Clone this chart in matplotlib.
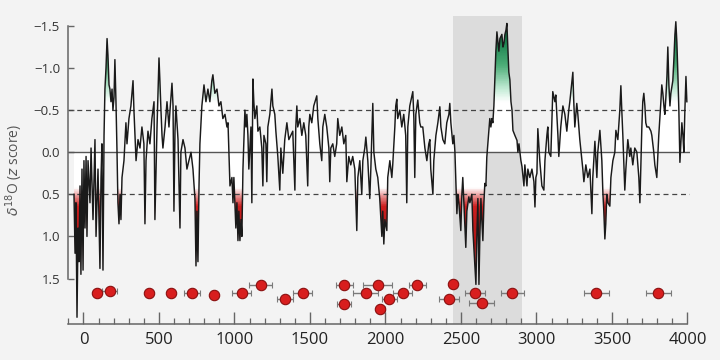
import matplotlib.pyplot as plt
from matplotlib.colors import LinearSegmentedColormap
import numpy as np

plt.rcParams['font.family'] = ['Open Sans', 'DejaVu Sans']

# record: (year, z score) turning points
years = [-63, -56, -50, -43, -36, -30, -23, -17, -10, -3, 3, 10, 17, 23, 30, 43, 50, 63, 76, 83,
         96, 109, 116, 122, 129, 136, 142, 149, 156, 162, 169, 175, 182, 189, 195, 202, 208, 215, 222, 228,
         235, 242, 248, 255, 268, 281, 288, 301, 314, 328, 334, 348, 361, 374, 387, 400, 407, 414, 427, 440,
         453, 467, 473, 487, 500, 506, 513, 520, 526, 540, 553, 566, 573, 586, 593, 599, 606, 612, 626, 639,
         645, 659, 672, 685, 698, 712, 725, 738, 745, 751, 758, 765, 771, 784, 798, 811, 824, 837, 850, 857,
         870, 884, 897, 910, 923, 937, 950, 957, 963, 970, 983, 990, 996, 1009, 1016, 1023, 1029, 1036, 1043, 1049,
         1056, 1069, 1076, 1082, 1089, 1095, 1109, 1115, 1122, 1128, 1135, 1148, 1155, 1168, 1181, 1188, 1195, 1208, 1214, 1221,
         1234, 1248, 1254, 1267, 1274, 1287, 1300, 1307, 1320, 1333, 1347, 1360, 1373, 1386, 1400, 1406, 1413, 1419, 1433, 1446,
         1459, 1472, 1485, 1492, 1499, 1512, 1525, 1545, 1552, 1565, 1578, 1585, 1598, 1611, 1625, 1631, 1638, 1651, 1664, 1677,
         1684, 1697, 1711, 1724, 1737, 1744, 1757, 1770, 1783, 1797, 1810, 1817, 1830, 1843, 1850, 1863, 1870, 1883, 1896, 1903,
         1916, 1923, 1936, 1949, 1962, 1976, 1982, 1989, 1996, 2009, 2015, 2029, 2042, 2048, 2062, 2068, 2075, 2081, 2095, 2108,
         2121, 2134, 2141, 2148, 2161, 2181, 2188, 2194, 2201, 2214, 2227, 2234, 2247, 2261, 2274, 2287, 2294, 2300, 2314, 2320,
         2334, 2347, 2360, 2367, 2380, 2393, 2406, 2420, 2426, 2433, 2446, 2453, 2460, 2473, 2479, 2486, 2499, 2506, 2512, 2519,
         2532, 2539, 2552, 2559, 2572, 2579, 2592, 2599, 2605, 2612, 2619, 2625, 2632, 2638, 2645, 2652, 2658, 2665, 2671, 2678,
         2691, 2698, 2705, 2711, 2718, 2725, 2731, 2738, 2745, 2751, 2758, 2771, 2778, 2785, 2791, 2798, 2804, 2811, 2817, 2824,
         2831, 2838, 2844, 2857, 2871, 2877, 2884, 2897, 2904, 2917, 2923, 2937, 2943, 2956, 2970, 2983, 2990, 2996, 3003, 3009,
         3022, 3036, 3049, 3056, 3069, 3075, 3082, 3095, 3108, 3122, 3128, 3142, 3148, 3161, 3175, 3188, 3201, 3214, 3221, 3241,
         3247, 3254, 3267, 3274, 3287, 3307, 3314, 3327, 3340, 3354, 3367, 3373, 3387, 3400, 3406, 3420, 3433, 3440, 3446, 3453,
         3459, 3466, 3473, 3486, 3493, 3506, 3519, 3526, 3539, 3552, 3559, 3565, 3572, 3585, 3592, 3605, 3618, 3625, 3638, 3651,
         3665, 3678, 3685, 3691, 3698, 3704, 3711, 3718, 3724, 3731, 3744, 3758, 3764, 3777, 3784, 3797, 3810, 3824, 3830, 3837,
         3844, 3850, 3857, 3864, 3870, 3877, 3884, 3890, 3903, 3910, 3917, 3923, 3930, 3937, 3943, 3950, 3956, 3963, 3970, 3976,
         3983, 3990, 3996]
d18o = [0.5, 1.2, 0.6, 1.96, 0.9, 1.3, 0.4, 1.45, 0.2, 1.4, 0.1, 0.9, 0.05, 1.0, 0.1, 0.6, -0.05, 0.8, -0.15, 1.0,
        0.2, 1.38, 0.3, -0.1, 1.4, -0.2, -0.75, -1.0, -1.35, -1.15, -0.8, -0.75, -0.6, -0.75, -0.5, -0.65, -1.1, -0.6, 0.0, 0.6,
        0.85, 0.5, 0.8, 0.3, 0.1, -0.35, -0.1, -0.4, -0.55, -0.85, -0.5, 0.1, -0.15, -0.05, -0.3, -0.1, 0.85, 0.1, -0.25, -0.1,
        -0.4, -0.6, 0.8, -0.3, -1.12, -0.85, -0.5, -0.2, -0.05, -0.3, -0.6, -0.3, -0.5, -0.82, -0.55, 0.7, -0.25, -0.55, -0.15, 0.9,
        0.0, -0.15, -0.05, 0.2, 0.1, 0.0, 0.2, 0.55, 1.35, 0.7, 1.3, 0.4, -0.1, -0.55, -0.8, -0.6, -0.75, -0.6, -0.85, -0.92,
        -0.7, -0.75, -0.55, -0.6, -0.4, -0.45, -0.3, -0.35, 0.0, 0.4, 0.3, 0.6, 0.3, 0.9, 0.6, 1.05, 0.7, 1.05, 0.8, 1.0,
        0.2, -0.5, -0.3, -0.45, -0.2, 0.2, -0.3, 0.6, -0.87, -0.6, -0.4, -0.55, -0.25, -0.3, -0.05, 0.4, -0.2, -0.1, 0.35, -0.3,
        -0.45, -0.75, -0.55, -0.45, -0.25, 0.05, 0.45, -0.05, 0.25, -0.15, -0.35, -0.15, -0.2, -0.25, 0.45, -0.3, -0.55, -0.3, -0.4, -0.2,
        -0.35, -0.2, 0.4, -0.3, -0.45, -0.35, -0.55, -0.67, -0.4, -0.1, 0.1, -0.3, -0.45, -0.3, -0.05, 0.35, -0.05, -0.1, 0.05, -0.1,
        -0.4, -0.2, -0.3, -0.1, -0.2, 0.35, 0.05, 0.15, 0.05, 0.2, 0.93, 0.3, 0.1, 0.5, 0.1, -0.05, -0.18, 0.1, 0.55, 0.2,
        -0.58, 0.0, 0.2, 0.3, 0.55, 1.0, 0.7, 1.09, 0.8, 0.93, 0.3, 0.1, 0.3, 0.15, -0.3, -0.55, -0.63, -0.4, -0.5, -0.3,
        -0.45, -0.2, 0.6, -0.3, -0.55, -0.72, -0.4, 0.3, -0.45, -0.62, -0.35, -0.3, -0.3, -0.05, 0.1, -0.1, -0.15, 0.2, 0.5, 0.1,
        -0.2, -0.35, -0.54, -0.3, -0.15, -0.1, -0.35, -0.45, -0.58, -0.35, -0.1, -0.2, 0.0, 0.73, 0.5, 0.6, 0.93, 0.5, 0.3, 0.6,
        1.13, 0.7, 0.53, 0.6, 0.5, 0.93, 1.35, 1.57, 1.0, 0.55, 1.57, 1.0, 0.55, 0.8, 1.05, 0.6, 0.37, 0.4, 0.06, -0.1,
        -0.4, -0.3, -0.4, -0.35, -0.55, -0.9, -1.2, -1.43, -1.3, -1.2, -1.35, -1.4, -1.25, -1.3, -1.4, -1.45, -1.53, -1.2, -0.95, -0.86,
        -0.6, -0.5, -0.26, -0.2, -0.14, 0.0, -0.1, 0.1, 0.17, 0.4, 0.15, 0.4, 0.2, 0.3, 0.2, 0.35, 0.65, 0.3, 0.25, -0.28,
        0.1, 0.4, 0.45, 0.1, -0.2, -0.3, 0.0, 0.05, -0.72, -0.6, -0.68, -0.2, 0.05, -0.3, -0.55, -0.45, -0.25, -0.5, -0.6, -0.95,
        -0.6, -0.3, -0.58, -0.45, -0.15, 0.2, 0.35, 0.15, 0.3, 0.2, 0.73, 0.3, -0.13, 0.3, 0.0, -0.26, 0.1, 0.49, 0.7, 1.03,
        0.85, 0.5, 0.6, 0.64, 0.3, 0.1, 0.0, -0.26, -0.15, -0.5, -0.79, -0.5, -0.2, 0.45, 0.2, -0.15, 0.05, -0.05, 0.15, -0.05,
        0.0, 0.3, 0.6, 0.2, -0.3, -0.6, -0.7, -0.55, -0.35, -0.3, -0.3, -0.25, -0.2, 0.0, 0.15, 0.3, -0.2, -0.6, -0.8, -0.7,
        -0.55, -0.45, -0.65, -0.9, -1.25, -0.8, -0.55, -0.7, -0.85, -1.1, -1.4, -1.55, -1.3, -0.9, -0.5, 0.12, -0.1, -0.35, -0.2, 0.0,
        -0.5, -0.9, -0.6]

# dated events (red circles) with their age uncertainty
event_age = [87, 175, 433, 580, 720, 864, 1047, 1173, 1334, 1451, 1727, 1725, 1868, 1948, 1967, 2024,
             2113, 2210, 2422, 2448, 2592, 2636, 2841, 3397, 3806]
event_row = [1.67, 1.65, 1.67, 1.67, 1.67, 1.69, 1.67, 1.575, 1.74, 1.67, 1.575, 1.80, 1.67, 1.575, 1.86, 1.745,
             1.67, 1.575, 1.74, 1.565, 1.67, 1.79, 1.67, 1.67, 1.67]
event_err = [10, 50, 15, 12, 52, 10, 63, 77, 53, 61, 57, 44, 83, 98, 30, 50,
             64, 56, 66, 10, 66, 83, 77, 85, 83]

shade_span = (2447, 2904)
yticks = [-1.5, -1.0, -0.5, 0.0, 0.5, 1.0, 1.5]
ytick_labels = ['\u22121.5', '\u22121.0', '\u22120.5', '0.0', '0.5', '1.0', '1.5']
xticks = [0, 500, 1000, 1500, 2000, 2500, 3000, 3500, 4000]

bg = '#f3f3f3'
fig = plt.figure(figsize=(7.2, 3.6), dpi=100, facecolor=bg)
ax = fig.add_axes([0.095, 0.1, 0.864, 0.856], facecolor=bg)
x0, x1 = -100, 4020
ylo, yhi = 2.04, -1.62
ax.set_xlim(x0, x1)
ax.set_ylim(ylo, yhi)

ax.axvspan(*shade_span, color='#dcdcdc', lw=0, zorder=0)

# vertical colour ramp, clipped to the area between zero and the curve
ramp = LinearSegmentedColormap.from_list('ramp', [
    (0.00, (0.07, 0.42, 0.25, 1.0)),
    (0.08, (0.10, 0.50, 0.30, 1.0)),
    (0.16, (0.30, 0.68, 0.47, 1.0)),
    (0.24, (0.78, 0.93, 0.85, 1.0)),
    (0.28, (1.0, 1.0, 1.0, 1.0)),
    (0.56, (1.0, 1.0, 1.0, 1.0)),
    (0.585, (0.92, 0.60, 0.60, 1.0)),
    (0.62, (0.80, 0.12, 0.12, 1.0)),
    (0.74, (0.68, 0.08, 0.08, 1.0)),
    (0.86, (0.78, 0.40, 0.40, 1.0)),
    (1.00, (0.90, 0.80, 0.80, 1.0)),
])
vals = np.linspace(yhi, ylo, 400).reshape(-1, 1)
im = ax.imshow(vals, cmap=ramp, vmin=yhi, vmax=ylo, aspect='auto', origin='lower',
               extent=(x0, x1, yhi, ylo), interpolation='bilinear', zorder=1)
area = ax.fill_between(years, 0, d18o, color='none', lw=0)
im.set_clip_path(area.get_paths()[0], transform=ax.transData)
ax.set_xlim(x0, x1)
ax.set_ylim(ylo, yhi)

ax.axhline(0, color='#555555', lw=1.0, zorder=2)
ax.axhline(-0.5, color='#444444', lw=0.9, ls=(0, (4, 3)), zorder=2)
ax.axhline(0.5, color='#444444', lw=0.9, ls=(0, (4, 3)), zorder=2)

ax.plot(years, d18o, color='#1a1a1a', lw=1.05, zorder=3)

ax.errorbar(event_age, event_row, xerr=event_err, fmt='o', ms=7.5, mfc='#d81e1e', mec='#8a1010',
            mew=0.8, ecolor='#7a7a7a', elinewidth=1.0, capsize=2.5, capthick=1.0, zorder=4)

for side in ['top', 'right']:
    ax.spines[side].set_visible(False)
ax.spines['left'].set_bounds(-1.5, 1.5)
ax.spines['bottom'].set_bounds(-100, 4000)
for side in ['left', 'bottom']:
    ax.spines[side].set_color('#666666')
    ax.spines[side].set_linewidth(1.1)

ax.set_yticks(yticks)
ax.set_yticklabels(ytick_labels)
ax.set_xticks(xticks)
ax.set_xticks(np.arange(-100, 4001, 100), minor=True)
ax.tick_params(axis='y', direction='in', length=4, width=1, color='#666666',
               labelsize=9.5, labelcolor='#333333', pad=6)
ax.tick_params(axis='x', which='major', direction='in', length=9, width=1, color='#666666',
               labelsize=12, labelcolor='#222222', pad=6)
ax.tick_params(axis='x', which='minor', direction='in', length=4, width=0.9, color='#666666')
ax.set_ylabel(r'$\delta^{18}$O ($z$ score)', fontsize=10, color='#555555', labelpad=6)

fig.savefig('out.png', dpi=100, facecolor=bg)
